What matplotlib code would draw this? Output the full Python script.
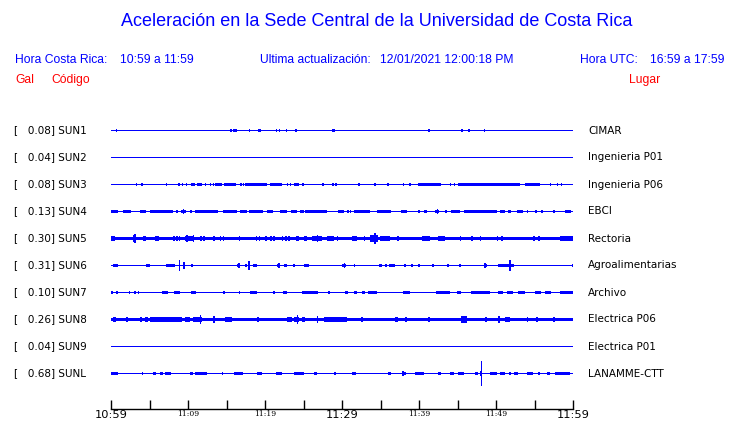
import matplotlib
matplotlib.use("Agg")
import matplotlib.pyplot as plt
import matplotlib.transforms as mtransforms

# station table
codes = ["SUN1", "SUN2", "SUN3", "SUN4", "SUN5", "SUN6", "SUN7", "SUN8", "SUN9", "SUNL"]
gal_max = [0.08, 0.04, 0.08, 0.13, 0.30, 0.31, 0.10, 0.26, 0.04, 0.68]
lugar = ["CIMAR", "Ingenieria P01", "Ingenieria P06", "EBCI", "Rectoria",
         "Agroalimentarias", "Archivo", "Electrica P06", "Electrica P01", "LANAMME-CTT"]
# background noise band (Gal) of each trace
noise = [0.028, 0.028, 0.028, 0.028, 0.11, 0.028, 0.028, 0.11, 0.028, 0.028]

# bursts: (start minute, end minute, amplitude Gal)
sun1 = [(0.6, 0.6, .06), (7.7, 7.7, .03), (9.2, 9.2, .04), (10.8, 10.8, .04), (15.5, 15.5, .06),
        (15.8, 16.4, .07), (16.8, 16.8, .05), (17.9, 17.9, .06), (18.5, 18.5, .05), (19.1, 19.5, .07),
        (20.7, 20.7, .03), (21.4, 21.4, .06), (21.8, 21.8, .06), (22.2, 22.2, .05), (22.7, 22.9, .07),
        (23.9, 24.1, .08), (24.3, 24.3, .05), (27.7, 27.7, .05), (28.7, 28.7, .06), (28.9, 28.9, .06),
        (30.5, 30.5, .05), (34.6, 34.6, .05), (39.4, 39.4, .05), (41.2, 41.4, .08), (41.9, 41.9, .03),
        (44.4, 44.4, .03), (44.6, 44.6, .05), (45.5, 45.5, .07), (46.3, 46.6, .08), (48.0, 48.0, .05),
        (48.4, 48.4, .06), (49.1, 49.1, .03), (50.3, 50.3, .03), (51.0, 51.0, .04), (51.5, 51.5, .04),
        (51.9, 51.9, .04), (52.5, 52.5, .04), (52.8, 52.8, .03), (54.5, 54.5, .05), (54.8, 54.8, .05),
        (55.1, 55.1, .03)]
sun2 = [(19.2, 19.4, .04), (22.7, 22.7, .03)]
sun3 = [(3.2, 3.2, .06), (3.9, 3.9, .06), (7.1, 7.1, .06), (8.1, 8.1, .03), (8.7, 8.7, .06),
        (9.2, 9.2, .06), (9.7, 9.7, .06), (10.4, 10.9, .07), (11.2, 11.8, .07), (12.2, 12.2, .06),
        (12.8, 12.8, .06), (13.2, 13.2, .06), (13.5, 14.4, .07), (14.7, 16.2, .07), (16.8, 16.8, .06),
        (17.1, 17.1, .06), (17.4, 20.2, .07), (20.7, 22.2, .07), (22.8, 22.8, .06), (23.2, 23.2, .06),
        (23.8, 24.4, .08), (24.8, 24.8, .06), (26.1, 26.1, .03), (26.9, 26.9, .04), (27.4, 27.4, .06),
        (27.8, 27.8, .04), (28.7, 28.7, .06), (29.1, 29.1, .06), (31.1, 31.1, .03), (31.5, 31.5, .04),
        (32.1, 32.1, .06), (34.2, 34.2, .06), (34.9, 34.9, .03), (35.9, 35.9, .06), (37.9, 37.9, .06),
        (38.7, 38.7, .06), (39.9, 42.9, .07), (44.0, 44.0, .06), (44.5, 44.5, .06), (45.1, 53.1, .07),
        (53.8, 55.7, .07), (56.1, 56.1, .04), (56.4, 56.4, .04), (57.0, 57.0, .06), (57.9, 57.9, .06),
        (58.4, 58.4, .06)]
sun4 = [(0.0, 0.9, .09), (1.6, 2.6, .09), (3.8, 4.6, .09), (5.1, 8.1, .09), (8.5, 8.5, .07),
        (9.1, 9.8, .10), (9.3, 9.3, .13), (10.3, 10.3, .07), (10.9, 13.9, .09), (14.6, 16.3, .09),
        (16.8, 17.6, .09), (17.9, 19.8, .09), (20.2, 21.1, .09), (21.9, 22.9, .09), (23.4, 24.2, .09),
        (24.5, 25.0, .09), (25.2, 28.0, .09), (29.5, 30.2, .08), (30.7, 30.7, .06), (31.0, 31.0, .06),
        (31.6, 33.6, .09), (34.5, 36.4, .09), (37.7, 38.4, .09), (39.9, 39.9, .06), (40.6, 41.0, .09),
        (42.1, 42.6, .10), (42.3, 42.3, .13), (43.4, 43.4, .06), (44.2, 45.3, .09), (45.9, 50.1, .09),
        (50.5, 51.2, .09), (51.6, 52.0, .08), (52.7, 53.5, .08), (54.0, 54.0, .06), (55.1, 55.1, .06),
        (55.9, 55.9, .06), (57.4, 57.4, .06), (59.0, 59.8, .09)]
sun5 = [(0.0, 0.5, .15), (3.0, 3.0, .27), (2.8, 3.3, .17), (4.1, 4.6, .15), (5.7, 6.2, .15),
        (8.1, 8.1, .13), (8.5, 8.5, .13), (8.8, 8.8, .13), (9.6, 10.8, .16), (9.8, 9.8, .22),
        (10.6, 10.6, .22), (11.6, 11.6, .13), (12.0, 12.0, .13), (13.2, 13.5, .15), (14.1, 14.1, .15),
        (14.5, 14.5, .13), (16.6, 16.6, .13), (18.8, 18.8, .13), (19.2, 19.2, .13), (20.0, 20.0, .13),
        (20.7, 20.7, .13), (21.1, 21.1, .13), (22.2, 22.2, .13), (22.6, 22.6, .13), (23.0, 23.0, .13),
        (24.0, 24.4, .15), (25.1, 25.1, .13), (25.3, 25.3, .13), (26.1, 27.4, .16), (26.7, 26.7, .20),
        (28.0, 28.9, .16), (29.3, 29.3, .13), (31.3, 31.9, .15), (32.8, 32.8, .13), (33.6, 34.7, .17),
        (34.2, 34.2, .30), (34.9, 36.2, .16), (37.2, 37.2, .13), (40.4, 41.4, .16), (42.5, 43.4, .16),
        (45.3, 45.3, .13), (46.8, 46.8, .13), (47.9, 47.9, .13), (50.1, 50.1, .13), (50.7, 50.7, .13),
        (54.8, 54.8, .14), (55.5, 55.5, .13), (58.3, 60.0, .14)]
sun6 = [(0.3, 0.9, .07), (0.6, 0.6, .10), (1.7, 1.7, .05), (3.2, 3.2, .05), (3.5, 3.5, .05),
        (4.1, 4.1, .05), (4.6, 5.1, .07), (5.5, 5.5, .05), (5.7, 5.7, .05), (7.1, 8.3, .08),
        (8.8, 8.8, .31), (9.3, 9.5, .12), (9.4, 9.4, .20), (10.4, 10.4, .06), (11.1, 11.1, .05),
        (11.8, 11.8, .05), (13.6, 13.6, .04), (15.5, 15.5, .05), (16.4, 16.8, .10), (16.5, 16.5, .14),
        (17.4, 17.4, .06), (17.8, 17.8, .27), (18.5, 18.9, .07), (19.6, 19.6, .05), (20.0, 20.0, .05),
        (20.6, 20.6, .05), (21.6, 21.8, .10), (21.7, 21.7, .14), (22.5, 22.8, .07), (23.7, 23.9, .07),
        (25.0, 25.7, .08), (25.2, 25.2, .10), (27.4, 27.4, .05), (27.8, 27.8, .05), (29.4, 29.4, .05),
        (30.0, 30.5, .08), (30.2, 30.2, .12), (31.5, 31.5, .06), (33.8, 33.8, .05), (34.8, 35.2, .07),
        (35.6, 35.6, .06), (36.1, 36.9, .07), (38.1, 38.1, .06), (39.0, 39.0, .06), (39.9, 39.9, .06),
        (41.7, 42.0, .07), (42.9, 42.9, .05), (43.7, 43.9, .07), (44.8, 44.8, .05), (45.2, 45.5, .07),
        (46.4, 46.4, .05), (48.4, 48.8, .10), (48.5, 48.5, .15), (49.4, 49.4, .05), (50.3, 52.4, .09),
        (51.7, 51.7, .30), (53.5, 53.5, .05), (55.1, 55.1, .05), (56.4, 56.4, .05), (56.9, 56.9, .05),
        (57.4, 57.4, .05), (59.9, 59.9, .10)]
sun7 = [(0.0, 0.2, .07), (0.7, 0.9, .07), (2.3, 2.3, .06), (3.0, 3.0, .06), (3.5, 3.7, .07),
        (4.4, 4.4, .05), (6.6, 7.4, .07), (7.8, 7.8, .05), (8.2, 9.0, .07), (9.6, 9.6, .05),
        (10.4, 11.1, .08), (10.7, 10.7, .10), (11.9, 11.9, .05), (12.3, 12.3, .05), (13.7, 13.7, .05),
        (14.6, 14.8, .06), (15.3, 15.3, .05), (16.6, 16.6, .06), (18.1, 18.9, .07), (19.3, 19.3, .05),
        (19.6, 19.6, .05), (21.1, 21.1, .06), (22.3, 22.9, .07), (23.5, 23.5, .05), (23.8, 23.8, .05),
        (24.8, 26.9, .07), (28.2, 28.2, .06), (29.8, 29.8, .05), (30.4, 30.8, .07), (31.5, 31.9, .07),
        (32.6, 33.0, .07), (33.4, 34.5, .07), (35.3, 35.3, .05), (36.4, 36.4, .05), (36.9, 36.9, .05),
        (37.4, 37.4, .05), (37.9, 38.8, .07), (40.4, 40.4, .04), (41.6, 41.6, .05), (42.2, 44.0, .07),
        (44.9, 45.5, .07), (46.2, 46.2, .05), (46.8, 49.2, .07), (50.3, 50.9, .07), (51.4, 52.2, .07),
        (51.6, 51.6, .10), (52.9, 53.8, .07), (54.6, 54.6, .05), (55.1, 55.9, .07), (56.4, 57.2, .07),
        (58.3, 60.0, .07)]
sun8 = [(0.3, 0.7, .15), (2.0, 2.0, .14), (3.8, 3.8, .13), (4.4, 4.8, .14), (5.1, 9.2, .12),
        (7.4, 7.4, .15), (9.6, 10.3, .13), (10.7, 11.8, .16), (11.5, 11.5, .26), (13.3, 13.3, .20),
        (14.8, 15.7, .14), (19.0, 19.0, .14), (22.9, 23.5, .15), (24.1, 24.1, .24), (23.8, 24.4, .16),
        (24.8, 25.2, .14), (26.7, 26.9, .17), (27.6, 30.6, .15), (32.5, 32.5, .13), (36.9, 37.3, .12),
        (38.2, 38.2, .12), (41.2, 41.2, .15), (45.5, 46.2, .17), (48.6, 48.6, .13), (50.3, 50.3, .17),
        (51.2, 51.8, .15), (54.0, 54.0, .13), (55.2, 55.2, .13), (57.4, 57.7, .15)]
sun9 = [(11.5, 11.5, .04), (19.4, 19.4, .03), (50.3, 50.3, .03), (58.9, 58.9, .03)]
sunl = [(0.0, 0.9, .06), (1.7, 1.7, .05), (2.2, 2.2, .05), (4.0, 4.0, .10), (4.9, 4.9, .05),
        (5.4, 5.9, .06), (6.4, 6.7, .06), (7.0, 7.8, .07), (8.7, 8.7, .05), (9.4, 9.4, .05),
        (9.9, 9.9, .05), (10.3, 10.6, .06), (10.9, 12.5, .07), (13.6, 13.6, .05), (14.4, 14.6, .06),
        (15.3, 15.3, .05), (15.7, 15.7, .05), (16.0, 17.2, .06), (17.7, 17.7, .05), (19.0, 19.6, .06),
        (20.3, 20.3, .05), (20.8, 20.8, .05), (21.4, 22.2, .06), (22.8, 22.8, .05), (23.8, 25.1, .07),
        (25.4, 25.4, .05), (26.3, 26.7, .06), (27.4, 27.4, .05), (28.1, 28.1, .05), (28.9, 29.2, .06),
        (30.0, 30.0, .05), (31.3, 31.8, .07), (33.0, 33.0, .05), (33.6, 33.6, .05), (35.4, 35.4, .05),
        (36.0, 36.4, .06), (37.8, 37.8, .14), (38.1, 38.1, .07), (39.5, 40.7, .06), (41.2, 41.2, .05),
        (42.5, 42.9, .06), (44.0, 44.5, .06), (45.0, 45.8, .06), (47.3, 47.6, .08), (48.0, 48.0, .68),
        (47.9, 48.2, .12), (49.2, 50.1, .07), (50.5, 51.2, .10), (51.7, 51.7, .06), (52.4, 52.9, .06),
        (54.0, 54.8, .06), (55.5, 55.7, .10), (56.6, 57.0, .06), (57.7, 59.6, .08)]
bursts = [sun1, sun2, sun3, sun4, sun5, sun6, sun7, sun8, sun9, sunl]

tick_minutes = list(range(0, 61, 5))
tick_labels = {0: "10:59", 10: "11:09", 20: "11:19", 30: "11:29", 40: "11:39", 50: "11:49", 60: "11:59"}
big_ticks = [0, 30, 60]

BLUE = "#0000ff"
RED = "#ff0000"
W, H = 740, 423
row_gap = 1.5  # Gal between traces (27 px)

fig = plt.figure(figsize=(W / 100, H / 100), dpi=100)
ax = fig.add_axes([111 / W, 14 / H, 462 / W, 294 / H])
ax.set_xlim(0, 60)
# trace centres land on pixel centres: 18 px per Gal
ax.set_ylim(278.5 / 18, -15.5 / 18)

for i, code in enumerate(codes):
    y0 = i * row_gap
    # baseline / noise band
    ax.bar(0, 2 * noise[i], width=60, bottom=y0 - noise[i], align="edge", color=BLUE, lw=0)
    for t0, t1, a in bursts[i]:
        ax.bar(t0, 2 * a, width=max(t1 - t0, 0.2), bottom=y0 - a, align="edge", color=BLUE, lw=0)

for s in ["top", "left", "right"]:
    ax.spines[s].set_visible(False)
ax.spines["bottom"].set_linewidth(1.0)
ax.set_yticks([])
ax.set_xticks(tick_minutes)
ax.set_xticklabels([tick_labels.get(m, "") for m in tick_minutes])
ax.tick_params(axis="x", direction="in", length=6.5, width=1.0, pad=1)
for m, lab in zip(tick_minutes, ax.get_xticklabels()):
    if m in big_ticks:
        lab.set_fontsize(8.2)
    else:
        lab.set_fontsize(5.5)
        lab.set_family("DejaVu Serif")

# station labels left and right
trans = mtransforms.blended_transform_factory(fig.transFigure, ax.transData)
for i, code in enumerate(codes):
    y0 = i * row_gap
    ax.text(14 / W, y0, "[   %.2f] %s" % (gal_max[i], code), transform=trans,
            fontsize=7.5, va="center", ha="left", family="DejaVu Sans")
    ax.text(588 / W, y0, lugar[i], transform=trans,
            fontsize=7.5, va="center", ha="left", family="DejaVu Sans")

def ftext(x, y, s, **kw):
    fig.text(x / W, 1 - y / H, s, va="center", family="Liberation Sans", **kw)

ftext(377, 21, "Aceleración en la Sede Central de la Universidad de Costa Rica",
      ha="center", fontsize=13, color=BLUE)
ftext(15, 60, "Hora Costa Rica:", fontsize=8.7, color=BLUE)
ftext(120, 60, "10:59 a 11:59", fontsize=8.7, color=BLUE)
ftext(260, 60, "Ultima actualización:", fontsize=8.7, color=BLUE)
ftext(380, 60, "12/01/2021 12:00:18 PM", fontsize=8.7, color=BLUE)
ftext(580, 60, "Hora UTC:", fontsize=8.7, color=BLUE)
ftext(650, 60, "16:59 a 17:59", fontsize=8.7, color=BLUE)
ftext(15, 80, "Gal", fontsize=8.7, color=RED)
ftext(51, 80, "Código", fontsize=8.7, color=RED)
ftext(629, 80, "Lugar", fontsize=8.7, color=RED)

fig.savefig("out.png", dpi=100)
